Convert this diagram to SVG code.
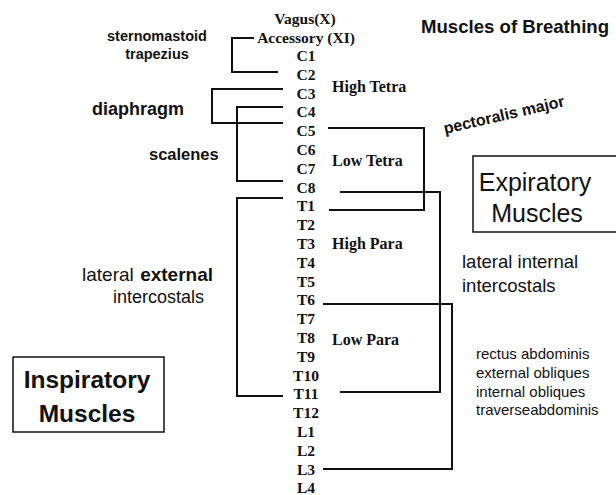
<svg xmlns="http://www.w3.org/2000/svg" width="616" height="495" viewBox="0 0 616 495">
<style>
.sp{font-family:"Liberation Serif","Times New Roman",serif;font-weight:bold;font-size:15.5px;fill:#111;text-anchor:middle}
.lvl{font-family:"Liberation Serif","Times New Roman",serif;font-weight:bold;font-size:16px;fill:#111}
.sb{font-family:"Liberation Sans",Arial,sans-serif;font-weight:bold;fill:#111}
.sr{font-family:"Liberation Sans",Arial,sans-serif;fill:#111}
.ln{fill:none;stroke:#111;stroke-width:2}
.box{fill:#fff;stroke:#111;stroke-width:1.5}
</style>
<rect width="616" height="495" fill="#fff"/>
<g id="spinal-levels">
<text class="sp" x="305" y="24">Vagus(X)</text>
<text class="sp" x="306" y="43">Accessory (XI)</text>
<text class="sp" x="306" y="61">C1</text>
<text class="sp" x="306" y="79.8">C2</text>
<text class="sp" x="306" y="98.6">C3</text>
<text class="sp" x="306" y="117.4">C4</text>
<text class="sp" x="306" y="136.2">C5</text>
<text class="sp" x="306" y="155">C6</text>
<text class="sp" x="306" y="173.8">C7</text>
<text class="sp" x="306" y="192.6">C8</text>
<text class="sp" x="306" y="211.4">T1</text>
<text class="sp" x="306" y="230.2">T2</text>
<text class="sp" x="306" y="249">T3</text>
<text class="sp" x="306" y="267.8">T4</text>
<text class="sp" x="306" y="286.6">T5</text>
<text class="sp" x="306" y="305.4">T6</text>
<text class="sp" x="306" y="324.2">T7</text>
<text class="sp" x="306" y="343">T8</text>
<text class="sp" x="306" y="361.8">T9</text>
<text class="sp" x="306" y="380.6">T10</text>
<text class="sp" x="306" y="399.4">T11</text>
<text class="sp" x="306" y="418.2">T12</text>
<text class="sp" x="306" y="437">L1</text>
<text class="sp" x="306" y="455.8">L2</text>
<text class="sp" x="306" y="474.6">L3</text>
<text class="sp" x="306" y="493.4">L4</text>
</g>
<g id="injury-levels">
<text class="lvl" x="332" y="92">High Tetra</text>
<text class="lvl" x="332" y="166">Low Tetra</text>
<text class="lvl" x="332" y="249">High Para</text>
<text class="lvl" x="332" y="345">Low Para</text>
</g>
<g id="title"><text class="sb" x="421" y="33" font-size="18.6">Muscles of Breathing</text></g>
<g id="sternomastoid">
<text class="sb" x="157" y="41" font-size="14.5" text-anchor="middle">sternomastoid</text>
<text class="sb" x="157" y="59" font-size="14.5" text-anchor="middle">trapezius</text>
</g>
<g id="diaphragm"><text class="sb" x="92" y="115" font-size="18">diaphragm</text></g>
<g id="scalenes"><text class="sb" x="149" y="160" font-size="16.5">scalenes</text></g>
<g id="external-intercostals">
<text class="sr" x="82" y="281" font-size="19">lateral</text>
<text class="sb" x="213" y="281" font-size="19" text-anchor="end">external</text>
<text class="sr" x="204" y="303" font-size="18" text-anchor="end">intercostals</text>
</g>
<g id="inspiratory-muscles">
<rect class="box" x="13" y="357" width="151" height="75"/>
<text class="sb" x="87" y="388" font-size="24.5" text-anchor="middle">Inspiratory</text>
<text class="sb" x="87" y="422" font-size="24.5" text-anchor="middle">Muscles</text>
</g>
<g id="pectoralis-major"><text class="sb" font-size="16" transform="translate(445,134) rotate(-13)">pectoralis major</text></g>
<g id="expiratory-muscles">
<rect class="box" x="473" y="156" width="160" height="76"/>
<text class="sr" x="535" y="191" font-size="25" text-anchor="middle">Expiratory</text>
<text class="sr" x="537" y="222" font-size="25" text-anchor="middle">Muscles</text>
</g>
<g id="internal-intercostals">
<text class="sr" x="462" y="268" font-size="18.5">lateral internal</text>
<text class="sr" x="462" y="292" font-size="18.5">intercostals</text>
</g>
<g id="abdominals">
<text class="sr" x="476" y="359" font-size="15">rectus abdominis</text>
<text class="sr" x="476" y="378" font-size="15">external obliques</text>
<text class="sr" x="476" y="397" font-size="15">internal obliques</text>
<text class="sr" x="476" y="415" font-size="15">traverseabdominis</text>
</g>
<g id="connectors">
<polyline class="ln" points="254,38 232,38 232,72 278,72"/>
<polyline class="ln" points="283,89 212,89 212,123 283,123"/>
<polyline class="ln" points="283,107 237,107 237,181 283,181"/>
<polyline class="ln" points="283,198 237,198 237,396 283,396"/>
<polyline class="ln" points="328,128 424,128 424,210 329,210"/>
<polyline class="ln" points="340,192 440,192 440,392 340,392"/>
<polyline class="ln" points="323,304 452,304 452,469 323,469"/>
</g>
</svg>
